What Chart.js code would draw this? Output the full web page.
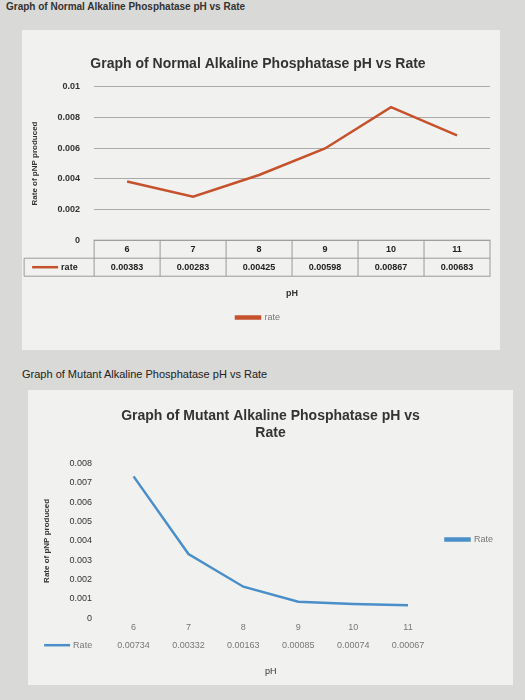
<!DOCTYPE html>
<html>
<head>
<meta charset="utf-8">
<script src="https://cdn.jsdelivr.net/npm/chart.js@4/dist/chart.umd.min.js"></script>
<style>
  body { margin: 0; width: 525px; height: 700px; background: #d9d9d7; font-family: "Liberation Sans", Arial, sans-serif; position: relative; overflow: hidden; }
  .cap { position: absolute; font-size: 11px; color: #222; }
  .box { position: absolute; background: #f1f1ef; }
</style>
</head>
<body>
<div class="cap" style="left:6px;top:1px;font-weight:bold;font-size:10px;color:#333">Graph of Normal Alkaline Phosphatase pH vs Rate</div>
<div class="box" style="left:22px;top:30px;width:478px;height:320px"><canvas id="normalChart"></canvas></div>
<div class="cap" style="left:22px;top:368px">Graph of Mutant Alkaline Phosphatase pH vs Rate</div>
<div class="box" style="left:28px;top:390px;width:485px;height:295px"><canvas id="mutantChart"></canvas></div>
<script>
// Данные
const phLabels = ['6', '7', '8', '9', '10', '11'];
const normalRate = [0.00383, 0.00283, 0.00425, 0.00598, 0.00867, 0.00683];
const normalRateText = ['0.00383', '0.00283', '0.00425', '0.00598', '0.00867', '0.00683'];
const mutantRate = [0.00734, 0.00332, 0.00163, 0.00085, 0.00074, 0.00067];
const mutantRateText = ['0.00734', '0.00332', '0.00163', '0.00085', '0.00074', '0.00067'];

// таблица данных под осью X
function tablePlugin(color, seriesName, drawGrid) {
    return {
        id: 'dataTable',
        afterDraw(chart) {
            const ctx = chart.ctx;
            const x = chart.scales.x;
            const top = chart.chartArea.bottom;
            const n = phLabels.length;
            const w = (x.right - x.left) / n;
            ctx.save();
            if (drawGrid) {
                ctx.strokeStyle = '#9a9a9a';
                ctx.lineWidth = 1;
                ctx.strokeRect(x.left, top, x.right - x.left, 36);
                ctx.beginPath();
                ctx.moveTo(x.left - 70, top + 18); ctx.lineTo(x.right, top + 18);
                ctx.moveTo(x.left - 70, top + 18); ctx.lineTo(x.left - 70, top + 36); ctx.lineTo(x.left, top + 36);
                for (let i = 1; i < n; i++) {
                    ctx.moveTo(x.left + i * w, top); ctx.lineTo(x.left + i * w, top + 36);
                }
                ctx.stroke();
            }
            ctx.strokeStyle = color;
            ctx.lineWidth = 2.5;
            ctx.beginPath();
            ctx.moveTo(x.left - 62, top + 27); ctx.lineTo(x.left - 36, top + 27);
            ctx.stroke();
            ctx.fillStyle = drawGrid ? '#222' : '#777';
            ctx.font = (drawGrid ? 'bold ' : '') + '9px "Liberation Sans", Arial';
            ctx.textAlign = 'left';
            ctx.textBaseline = 'middle';
            ctx.fillText(seriesName, x.left - 33, top + 27);
            ctx.textAlign = 'center';
            const vals = chart.data.datasets[0].rateText;
            for (let i = 0; i < n; i++) {
                const cx = x.left + (i + 0.5) * w;
                ctx.fillText(phLabels[i], cx, top + 9);
                ctx.fillText(vals[i], cx, top + 27);
            }
            ctx.restore();
        }
    };
}

function makeChart(id, opts) {
    return new Chart(document.getElementById(id), {
        type: 'line',
        data: {
            labels: phLabels,
            datasets: [{
                label: opts.name,
                data: opts.data,
                rateText: opts.text,
                borderColor: opts.color,
                backgroundColor: opts.color,
                borderWidth: 2.5,
                pointRadius: 0,
                tension: 0
            }]
        },
        options: {
            responsive: false,
            animation: false,
            layout: { padding: opts.padding },
            plugins: {
                title: {
                    display: true,
                    text: opts.title,
                    color: '#333',
                    font: { size: 14, weight: 'bold', family: '"Liberation Sans", Arial' },
                    padding: { top: 10, bottom: opts.titleGap }
                },
                legend: {
                    display: true,
                    position: opts.legendPos,
                    labels: {
                        boxWidth: 24, boxHeight: 2, color: '#777',
                        font: { size: 9 }
                    }
                },
                tooltip: { enabled: false }
            },
            scales: {
                x: {
                    offset: true,
                    grid: { display: false },
                    border: { display: false },
                    ticks: { display: false },
                    title: { display: true, text: 'pH', color: '#333', font: { size: 9, weight: opts.grid ? 'bold' : 'normal' }, padding: { top: 40 } }
                },
                y: {
                    min: 0,
                    max: opts.max,
                    ticks: {
                        stepSize: opts.step,
                        color: '#333',
                        padding: 14,
                        font: { size: 9, weight: opts.grid ? 'bold' : 'normal' },
                        callback: v => v === 0 ? '0' : +v.toFixed(3) + ''
                    },
                    grid: { display: opts.grid, color: '#aaa', drawTicks: false },
                    border: { display: false },
                    title: { display: true, text: 'Rate of pNP produced', color: '#333', font: { size: 8, weight: 'bold' } }
                }
            }
        },
        plugins: [tablePlugin(opts.color, opts.name, opts.grid)]
    });
}

function sizeCanvas(id, w, h) {
    const c = document.getElementById(id);
    c.width = w; c.height = h;
    c.style.width = w + 'px'; c.style.height = h + 'px';
}

sizeCanvas('normalChart', 478, 320);
sizeCanvas('mutantChart', 485, 295);

makeChart('normalChart', {
    name: 'rate', data: normalRate, text: normalRateText, color: '#c5522c',
    title: 'Graph of Normal Alkaline Phosphatase pH vs Rate',
    max: 0.01, step: 0.002, grid: true, legendPos: 'bottom', titleGap: 14,
    padding: { left: 4, right: 10, top: 16, bottom: 18 }
});
makeChart('mutantChart', {
    name: 'Rate', data: mutantRate, text: mutantRateText, color: '#4a8fc9',
    title: ['Graph of Mutant Alkaline Phosphatase pH vs', 'Rate'],
    max: 0.008, step: 0.001, grid: false, legendPos: 'right', titleGap: 22,
    padding: { left: 10, right: 10, top: 8, bottom: 4 }
});
</script>
</body>
</html>
